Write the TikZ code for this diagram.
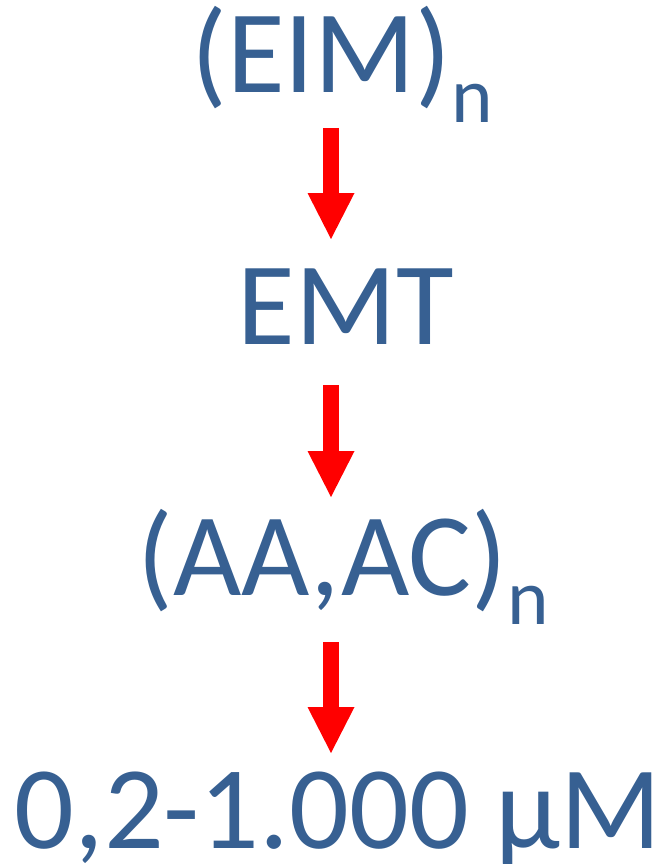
\documentclass[tikz,border=0pt]{standalone}
\usepackage{fontspec}
\setmainfont{Carlito}
\usetikzlibrary{arrows.meta}
\definecolor{labelblue}{HTML}{376092}
\definecolor{arrowred}{HTML}{FF0000}
\tikzset{
  stage/.style={anchor=base, inner sep=0pt, text=labelblue,
    font=\fontsize{118}{120}\selectfont},
  flow/.style={draw=arrowred, line width=16pt,
    -{Triangle[length=46pt,width=47pt,line width=0pt,fill=arrowred]}},
}
\newcommand{\subn}{\raisebox{-29pt}{\fontsize{79}{80}\selectfont n}}
\begin{document}
\begin{tikzpicture}[x=1pt,y=-1pt]
  \useasboundingbox (0,0) rectangle (670,864);
  % reaction chain
  \node[stage] (eim) at (342,93) {(EIM)\subn};
  \node[stage] (emt) at (346,344) {EMT};
  \node[stage] (aaac) at (343,595) {(AA,AC)\subn};
  \node[stage] (conc) at (338,848) {0,2-1.000 µM};
  % arrow ends
  \coordinate (a1s) at (331,128);
  \coordinate (a1e) at (331,239);
  \coordinate (a2s) at (331,385);
  \coordinate (a2e) at (331,497);
  \coordinate (a3s) at (331,642);
  \coordinate (a3e) at (331,753);
  \draw[flow] (a1s) -- (a1e);
  \draw[flow] (a2s) -- (a2e);
  \draw[flow] (a3s) -- (a3e);
\end{tikzpicture}
\end{document}
